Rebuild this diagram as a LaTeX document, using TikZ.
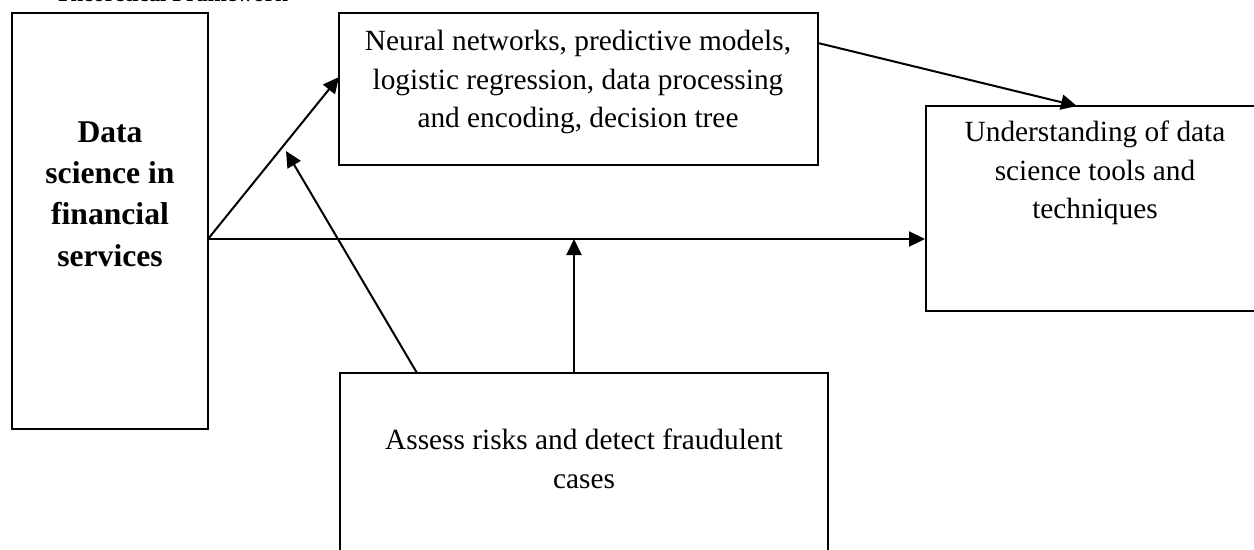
\documentclass[tikz,border=0pt]{standalone}
\usepackage{fontspec}
\setmainfont{Liberation Serif}
\usetikzlibrary{arrows.meta}
\tikzset{
  box/.style={draw,line width=0.04cm,inner sep=0pt},
  lbl/.style={align=center,font=\fontsize{16.7}{21.9}\selectfont},
  arr/.style={line width=0.04cm,-{Triangle[length=0.32cm,width=0.3cm]}}
}
\begin{document}
\begin{tikzpicture}[x=0.02cm,y=-0.02cm]
      \clip (0,0) rectangle (1254,549);
      % heading, cut off by the page edge
      \node[anchor=base west,inner sep=0pt,font=\fontsize{13}{15}\selectfont\bfseries] (title) at (55,1.2) {Theoretical Framework};
      % boxes
      \node[box,minimum width=3.92cm,minimum height=8.32cm] (fin) at (110,221) {};
      \node[box,minimum width=9.58cm,minimum height=3.04cm] (tools) at (578.5,89) {};
      \node[box,minimum width=6.72cm,minimum height=4.10cm] (know) at (1094,208.5) {};
      \node[box,minimum width=9.76cm,minimum height=3.84cm] (risk) at (584,469) {};
      % texts
      \node[lbl,font=\fontsize{18}{23.6}\selectfont\bfseries] (fintxt) at (110,194) {Data\\science in\\financial\\services};
      \node[lbl] (toolstxt) at (578,82) {Neural networks, predictive models,\\logistic regression, data processing\\and encoding, decision tree};
      \node[lbl] (knowtxt) at (1095,173) {Understanding of data\\science tools and\\techniques};
      \node[lbl] (risktxt) at (584,459) {Assess risks and detect fraudulent\\cases};
      % arrow ends
      \coordinate (split) at (208,239);
      \coordinate (toolsin) at (339,77);
      \coordinate (cross) at (286,151);
      \coordinate (riskout) at (417,373);
      \coordinate (joint) at (574,239);
      \coordinate (toolsout) at (818,43);
      \coordinate (knowin) at (1077,106);
      \begin{scope}[arr]
        \draw (split) -- (toolsin);
        \draw (split) -- (know.west |- split);
        \draw (riskout) -- (cross);
        \draw (joint |- risk.north) -- (joint);
        \draw (toolsout) -- (knowin);
      \end{scope}
    \end{tikzpicture}
\end{document}
